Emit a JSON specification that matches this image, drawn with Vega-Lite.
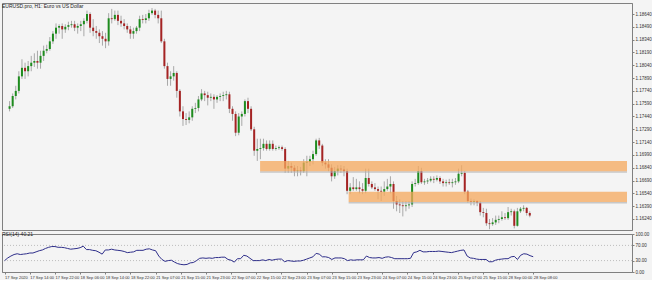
{
"$schema":"https://vega.github.io/schema/vega-lite/v6.json",
"background":"#f4f4f4",
"padding":{"left":1,"top":2,"right":0,"bottom":0},
"bounds":"flush",
"config":{
 "view":{"stroke":"#808080","strokeWidth":1},
 "font":"Liberation Sans",
 "axis":{"labelFontSize":4.5,"labelColor":"#333333","domainColor":"#808080","tickColor":"#808080","tickSize":2,"labelPadding":1,"grid":false,"title":null,"labelOverlap":false},
 "title":{"fontSize":5,"fontWeight":"normal","anchor":"start","color":"#222222","frame":"group"}
},
"datasets":{
"bars":[
{"i":0,"o":1.1753,"h":1.1762,"l":1.1750,"c":1.1756,"rsi":30},
{"i":1,"o":1.1756,"h":1.1771,"l":1.1754,"c":1.1768,"rsi":37},
{"i":2,"o":1.1768,"h":1.1780,"l":1.1764,"c":1.1774,"rsi":42},
{"i":3,"o":1.1774,"h":1.1797,"l":1.1771,"c":1.1791,"rsi":46},
{"i":4,"o":1.1791,"h":1.1811,"l":1.1788,"c":1.1801,"rsi":48},
{"i":5,"o":1.1801,"h":1.1807,"l":1.1788,"c":1.1797,"rsi":46},
{"i":6,"o":1.1797,"h":1.1809,"l":1.1791,"c":1.1803,"rsi":47},
{"i":7,"o":1.1803,"h":1.1815,"l":1.1797,"c":1.1807,"rsi":48},
{"i":8,"o":1.1807,"h":1.1818,"l":1.1802,"c":1.1809,"rsi":50},
{"i":9,"o":1.1809,"h":1.1821,"l":1.1800,"c":1.1807,"rsi":50},
{"i":10,"o":1.1807,"h":1.1821,"l":1.1800,"c":1.1815,"rsi":53},
{"i":11,"o":1.1815,"h":1.1827,"l":1.1809,"c":1.1821,"rsi":56},
{"i":12,"o":1.1821,"h":1.1828,"l":1.1818,"c":1.1823,"rsi":58},
{"i":13,"o":1.1823,"h":1.1837,"l":1.1821,"c":1.1832,"rsi":62},
{"i":14,"o":1.1832,"h":1.1844,"l":1.1829,"c":1.1841,"rsi":65},
{"i":15,"o":1.1841,"h":1.1853,"l":1.1835,"c":1.1848,"rsi":67},
{"i":16,"o":1.1848,"h":1.1852,"l":1.1841,"c":1.1850,"rsi":67},
{"i":17,"o":1.1850,"h":1.1853,"l":1.1835,"c":1.1846,"rsi":65},
{"i":18,"o":1.1846,"h":1.1852,"l":1.1842,"c":1.1849,"rsi":65},
{"i":19,"o":1.1849,"h":1.1855,"l":1.1845,"c":1.1851,"rsi":64},
{"i":20,"o":1.1851,"h":1.1856,"l":1.1848,"c":1.1852,"rsi":62},
{"i":21,"o":1.1852,"h":1.1856,"l":1.1844,"c":1.1848,"rsi":60},
{"i":22,"o":1.1848,"h":1.1853,"l":1.1841,"c":1.1850,"rsi":61},
{"i":23,"o":1.1850,"h":1.1856,"l":1.1844,"c":1.1852,"rsi":62},
{"i":24,"o":1.1852,"h":1.1859,"l":1.1838,"c":1.1856,"rsi":64},
{"i":25,"o":1.1856,"h":1.1868,"l":1.1853,"c":1.1864,"rsi":68},
{"i":26,"o":1.1864,"h":1.1866,"l":1.1842,"c":1.1848,"rsi":59},
{"i":27,"o":1.1848,"h":1.1858,"l":1.1838,"c":1.1844,"rsi":59},
{"i":28,"o":1.1844,"h":1.1850,"l":1.1835,"c":1.1842,"rsi":57},
{"i":29,"o":1.1842,"h":1.1846,"l":1.1830,"c":1.1838,"rsi":56},
{"i":30,"o":1.1838,"h":1.1844,"l":1.1827,"c":1.1835,"rsi":52},
{"i":31,"o":1.1835,"h":1.1842,"l":1.1824,"c":1.1832,"rsi":47},
{"i":32,"o":1.1832,"h":1.1865,"l":1.1827,"c":1.1859,"rsi":58},
{"i":33,"o":1.1859,"h":1.1870,"l":1.1853,"c":1.1858,"rsi":58},
{"i":34,"o":1.1858,"h":1.1868,"l":1.1856,"c":1.1863,"rsi":60},
{"i":35,"o":1.1863,"h":1.1868,"l":1.1851,"c":1.1856,"rsi":58},
{"i":36,"o":1.1856,"h":1.1862,"l":1.1849,"c":1.1853,"rsi":57},
{"i":37,"o":1.1853,"h":1.1858,"l":1.1846,"c":1.1850,"rsi":56},
{"i":38,"o":1.1850,"h":1.1853,"l":1.1842,"c":1.1846,"rsi":54},
{"i":39,"o":1.1846,"h":1.1850,"l":1.1835,"c":1.1841,"rsi":51},
{"i":40,"o":1.1841,"h":1.1848,"l":1.1835,"c":1.1844,"rsi":52},
{"i":41,"o":1.1844,"h":1.1850,"l":1.1841,"c":1.1848,"rsi":53},
{"i":42,"o":1.1848,"h":1.1862,"l":1.1844,"c":1.1858,"rsi":57},
{"i":43,"o":1.1858,"h":1.1863,"l":1.1853,"c":1.1857,"rsi":57},
{"i":44,"o":1.1857,"h":1.1864,"l":1.1853,"c":1.1859,"rsi":57},
{"i":45,"o":1.1859,"h":1.1869,"l":1.1856,"c":1.1865,"rsi":60},
{"i":46,"o":1.1865,"h":1.1871,"l":1.1863,"c":1.1868,"rsi":61},
{"i":47,"o":1.1868,"h":1.1870,"l":1.1859,"c":1.1863,"rsi":58},
{"i":48,"o":1.1863,"h":1.1868,"l":1.1853,"c":1.1859,"rsi":56},
{"i":49,"o":1.1859,"h":1.1868,"l":1.1830,"c":1.1832,"rsi":42},
{"i":50,"o":1.1832,"h":1.1835,"l":1.1800,"c":1.1803,"rsi":33},
{"i":51,"o":1.1803,"h":1.1807,"l":1.1780,"c":1.1788,"rsi":28},
{"i":52,"o":1.1788,"h":1.1797,"l":1.1780,"c":1.1791,"rsi":30},
{"i":53,"o":1.1791,"h":1.1803,"l":1.1786,"c":1.1795,"rsi":31},
{"i":54,"o":1.1795,"h":1.1797,"l":1.1766,"c":1.1774,"rsi":26},
{"i":55,"o":1.1774,"h":1.1776,"l":1.1744,"c":1.1750,"rsi":22},
{"i":56,"o":1.1750,"h":1.1756,"l":1.1733,"c":1.1741,"rsi":20},
{"i":57,"o":1.1741,"h":1.1748,"l":1.1734,"c":1.1740,"rsi":19},
{"i":58,"o":1.1740,"h":1.1750,"l":1.1736,"c":1.1743,"rsi":20},
{"i":59,"o":1.1743,"h":1.1756,"l":1.1739,"c":1.1753,"rsi":24},
{"i":60,"o":1.1753,"h":1.1760,"l":1.1748,"c":1.1754,"rsi":25},
{"i":61,"o":1.1754,"h":1.1768,"l":1.1750,"c":1.1764,"rsi":30},
{"i":62,"o":1.1764,"h":1.1776,"l":1.1762,"c":1.1771,"rsi":36},
{"i":63,"o":1.1771,"h":1.1774,"l":1.1762,"c":1.1769,"rsi":37},
{"i":64,"o":1.1769,"h":1.1773,"l":1.1757,"c":1.1766,"rsi":36},
{"i":65,"o":1.1766,"h":1.1771,"l":1.1762,"c":1.1767,"rsi":37},
{"i":66,"o":1.1767,"h":1.1770,"l":1.1753,"c":1.1764,"rsi":36},
{"i":67,"o":1.1764,"h":1.1769,"l":1.1760,"c":1.1767,"rsi":38},
{"i":68,"o":1.1767,"h":1.1771,"l":1.1762,"c":1.1768,"rsi":38},
{"i":69,"o":1.1768,"h":1.1773,"l":1.1762,"c":1.1769,"rsi":39},
{"i":70,"o":1.1769,"h":1.1774,"l":1.1764,"c":1.1770,"rsi":39},
{"i":71,"o":1.1770,"h":1.1773,"l":1.1748,"c":1.1753,"rsi":33},
{"i":72,"o":1.1753,"h":1.1756,"l":1.1739,"c":1.1747,"rsi":31},
{"i":73,"o":1.1747,"h":1.1750,"l":1.1721,"c":1.1725,"rsi":26},
{"i":74,"o":1.1725,"h":1.1748,"l":1.1722,"c":1.1744,"rsi":35},
{"i":75,"o":1.1744,"h":1.1750,"l":1.1733,"c":1.1747,"rsi":35},
{"i":76,"o":1.1747,"h":1.1764,"l":1.1744,"c":1.1762,"rsi":44},
{"i":77,"o":1.1762,"h":1.1766,"l":1.1748,"c":1.1753,"rsi":42},
{"i":78,"o":1.1753,"h":1.1756,"l":1.1727,"c":1.1729,"rsi":36},
{"i":79,"o":1.1729,"h":1.1732,"l":1.1698,"c":1.1704,"rsi":30},
{"i":80,"o":1.1704,"h":1.1718,"l":1.1692,"c":1.1706,"rsi":30},
{"i":81,"o":1.1706,"h":1.1718,"l":1.1694,"c":1.1707,"rsi":30},
{"i":82,"o":1.1707,"h":1.1718,"l":1.1704,"c":1.1712,"rsi":32},
{"i":83,"o":1.1712,"h":1.1716,"l":1.1704,"c":1.1706,"rsi":30},
{"i":84,"o":1.1706,"h":1.1716,"l":1.1704,"c":1.1712,"rsi":33},
{"i":85,"o":1.1712,"h":1.1716,"l":1.1704,"c":1.1706,"rsi":31},
{"i":86,"o":1.1706,"h":1.1710,"l":1.1704,"c":1.1707,"rsi":33},
{"i":87,"o":1.1707,"h":1.1710,"l":1.1705,"c":1.1708,"rsi":34},
{"i":88,"o":1.1708,"h":1.1710,"l":1.1704,"c":1.1706,"rsi":34},
{"i":89,"o":1.1706,"h":1.1708,"l":1.1678,"c":1.1683,"rsi":27},
{"i":90,"o":1.1683,"h":1.1692,"l":1.1678,"c":1.1686,"rsi":30},
{"i":91,"o":1.1686,"h":1.1690,"l":1.1678,"c":1.1684,"rsi":29},
{"i":92,"o":1.1684,"h":1.1687,"l":1.1674,"c":1.1680,"rsi":28},
{"i":93,"o":1.1680,"h":1.1686,"l":1.1674,"c":1.1681,"rsi":29},
{"i":94,"o":1.1681,"h":1.1685,"l":1.1675,"c":1.1680,"rsi":29},
{"i":95,"o":1.1680,"h":1.1694,"l":1.1678,"c":1.1690,"rsi":31},
{"i":96,"o":1.1690,"h":1.1698,"l":1.1674,"c":1.1691,"rsi":34},
{"i":97,"o":1.1691,"h":1.1698,"l":1.1686,"c":1.1694,"rsi":37},
{"i":98,"o":1.1694,"h":1.1704,"l":1.1688,"c":1.1700,"rsi":40},
{"i":99,"o":1.1700,"h":1.1718,"l":1.1698,"c":1.1716,"rsi":49},
{"i":100,"o":1.1716,"h":1.1719,"l":1.1706,"c":1.1710,"rsi":47},
{"i":101,"o":1.1710,"h":1.1712,"l":1.1686,"c":1.1690,"rsi":40},
{"i":102,"o":1.1690,"h":1.1694,"l":1.1683,"c":1.1688,"rsi":40},
{"i":103,"o":1.1688,"h":1.1694,"l":1.1680,"c":1.1684,"rsi":38},
{"i":104,"o":1.1684,"h":1.1688,"l":1.1668,"c":1.1674,"rsi":33},
{"i":105,"o":1.1674,"h":1.1685,"l":1.1671,"c":1.1680,"rsi":37},
{"i":106,"o":1.1680,"h":1.1687,"l":1.1675,"c":1.1683,"rsi":37},
{"i":107,"o":1.1683,"h":1.1687,"l":1.1678,"c":1.1682,"rsi":37},
{"i":108,"o":1.1682,"h":1.1686,"l":1.1674,"c":1.1680,"rsi":35},
{"i":109,"o":1.1680,"h":1.1683,"l":1.1653,"c":1.1657,"rsi":30},
{"i":110,"o":1.1657,"h":1.1666,"l":1.1653,"c":1.1661,"rsi":32},
{"i":111,"o":1.1661,"h":1.1673,"l":1.1657,"c":1.1659,"rsi":31},
{"i":112,"o":1.1659,"h":1.1671,"l":1.1657,"c":1.1661,"rsi":32},
{"i":113,"o":1.1661,"h":1.1668,"l":1.1654,"c":1.1659,"rsi":32},
{"i":114,"o":1.1659,"h":1.1666,"l":1.1653,"c":1.1657,"rsi":32},
{"i":115,"o":1.1657,"h":1.1683,"l":1.1654,"c":1.1672,"rsi":42},
{"i":116,"o":1.1672,"h":1.1683,"l":1.1662,"c":1.1665,"rsi":38},
{"i":117,"o":1.1665,"h":1.1668,"l":1.1659,"c":1.1661,"rsi":37},
{"i":118,"o":1.1661,"h":1.1666,"l":1.1657,"c":1.1659,"rsi":37},
{"i":119,"o":1.1659,"h":1.1662,"l":1.1647,"c":1.1657,"rsi":38},
{"i":120,"o":1.1657,"h":1.1662,"l":1.1645,"c":1.1656,"rsi":36},
{"i":121,"o":1.1656,"h":1.1668,"l":1.1651,"c":1.1659,"rsi":39},
{"i":122,"o":1.1659,"h":1.1671,"l":1.1657,"c":1.1662,"rsi":40},
{"i":123,"o":1.1662,"h":1.1674,"l":1.1654,"c":1.1665,"rsi":38},
{"i":124,"o":1.1665,"h":1.1668,"l":1.1636,"c":1.1645,"rsi":35},
{"i":125,"o":1.1645,"h":1.1651,"l":1.1633,"c":1.1641,"rsi":35},
{"i":126,"o":1.1641,"h":1.1647,"l":1.1631,"c":1.1640,"rsi":35},
{"i":127,"o":1.1640,"h":1.1645,"l":1.1627,"c":1.1639,"rsi":35},
{"i":128,"o":1.1639,"h":1.1645,"l":1.1633,"c":1.1640,"rsi":35},
{"i":129,"o":1.1640,"h":1.1645,"l":1.1636,"c":1.1641,"rsi":36},
{"i":130,"o":1.1641,"h":1.1668,"l":1.1638,"c":1.1665,"rsi":51},
{"i":131,"o":1.1665,"h":1.1671,"l":1.1662,"c":1.1666,"rsi":53},
{"i":132,"o":1.1666,"h":1.1686,"l":1.1664,"c":1.1680,"rsi":57},
{"i":133,"o":1.1680,"h":1.1684,"l":1.1665,"c":1.1667,"rsi":53},
{"i":134,"o":1.1667,"h":1.1671,"l":1.1664,"c":1.1668,"rsi":53},
{"i":135,"o":1.1668,"h":1.1672,"l":1.1665,"c":1.1669,"rsi":54},
{"i":136,"o":1.1669,"h":1.1674,"l":1.1667,"c":1.1671,"rsi":54},
{"i":137,"o":1.1671,"h":1.1674,"l":1.1666,"c":1.1670,"rsi":54},
{"i":138,"o":1.1670,"h":1.1675,"l":1.1668,"c":1.1672,"rsi":55},
{"i":139,"o":1.1672,"h":1.1674,"l":1.1665,"c":1.1668,"rsi":54},
{"i":140,"o":1.1668,"h":1.1671,"l":1.1662,"c":1.1666,"rsi":53},
{"i":141,"o":1.1666,"h":1.1670,"l":1.1662,"c":1.1667,"rsi":52},
{"i":142,"o":1.1667,"h":1.1671,"l":1.1664,"c":1.1666,"rsi":51},
{"i":143,"o":1.1666,"h":1.1671,"l":1.1661,"c":1.1667,"rsi":53},
{"i":144,"o":1.1667,"h":1.1672,"l":1.1664,"c":1.1668,"rsi":55},
{"i":145,"o":1.1668,"h":1.1683,"l":1.1666,"c":1.1677,"rsi":57},
{"i":146,"o":1.1677,"h":1.1687,"l":1.1674,"c":1.1678,"rsi":58},
{"i":147,"o":1.1678,"h":1.1680,"l":1.1653,"c":1.1656,"rsi":42},
{"i":148,"o":1.1656,"h":1.1658,"l":1.1643,"c":1.1645,"rsi":37},
{"i":149,"o":1.1645,"h":1.1648,"l":1.1640,"c":1.1644,"rsi":36},
{"i":150,"o":1.1644,"h":1.1647,"l":1.1640,"c":1.1645,"rsi":34},
{"i":151,"o":1.1645,"h":1.1646,"l":1.1639,"c":1.1643,"rsi":33},
{"i":152,"o":1.1643,"h":1.1645,"l":1.1628,"c":1.1632,"rsi":33},
{"i":153,"o":1.1632,"h":1.1637,"l":1.1626,"c":1.1631,"rsi":33},
{"i":154,"o":1.1631,"h":1.1636,"l":1.1616,"c":1.1619,"rsi":27},
{"i":155,"o":1.1619,"h":1.1624,"l":1.1612,"c":1.1618,"rsi":27},
{"i":156,"o":1.1618,"h":1.1625,"l":1.1616,"c":1.1620,"rsi":31},
{"i":157,"o":1.1620,"h":1.1628,"l":1.1617,"c":1.1623,"rsi":33},
{"i":158,"o":1.1623,"h":1.1628,"l":1.1619,"c":1.1624,"rsi":34},
{"i":159,"o":1.1624,"h":1.1633,"l":1.1622,"c":1.1626,"rsi":35},
{"i":160,"o":1.1626,"h":1.1631,"l":1.1623,"c":1.1625,"rsi":35},
{"i":161,"o":1.1625,"h":1.1638,"l":1.1623,"c":1.1632,"rsi":40},
{"i":162,"o":1.1632,"h":1.1636,"l":1.1628,"c":1.1633,"rsi":41},
{"i":163,"o":1.1633,"h":1.1635,"l":1.1613,"c":1.1616,"rsi":33},
{"i":164,"o":1.1616,"h":1.1637,"l":1.1615,"c":1.1633,"rsi":44},
{"i":165,"o":1.1633,"h":1.1638,"l":1.1631,"c":1.1636,"rsi":48},
{"i":166,"o":1.1636,"h":1.1640,"l":1.1633,"c":1.1637,"rsi":47},
{"i":167,"o":1.1637,"h":1.1638,"l":1.1628,"c":1.1631,"rsi":43},
{"i":168,"o":1.1631,"h":1.1633,"l":1.1626,"c":1.1628,"rsi":40.21}
],
"zones":[
{"start":80.9,"end":199.4,"top":1.1692,"bottom":1.1680,"shadow":1.1678},
{"start":109.5,"end":199.4,"top":1.1656,"bottom":1.1644,"shadow":1.1642}
],
"levels":[{"lvl":30},{"lvl":70}]
},
"spacing":4,
"vconcat":[
{
 "width":630,"height":227,
 "title":{"text":"EURUSD.pro, H1: Euro vs US Dollar","offset":-6},
 "layer":[
  {"data":{"name":"bars"},
   "mark":{"type":"rule","color":"#a8a8a8","strokeWidth":1},
   "encoding":{
    "x":{"field":"i","type":"quantitative","scale":{"domain":[-0.83,199.4],"nice":false,"zero":false},"axis":null},
    "y":{"field":"l","type":"quantitative","scale":{"domain":[1.16111,1.18769],"nice":false,"zero":false},
         "axis":{"orient":"right","format":".5f","tickCount":40,"values":[1.1864,1.1849,1.1834,1.1819,1.1804,1.1789,1.1774,1.1759,1.1744,1.1729,1.1714,1.1699,1.1684,1.1669,1.1654,1.1639,1.1624]}},
    "y2":{"field":"h"}}},
  {"data":{"name":"bars"},
   "mark":{"type":"bar","size":2},
   "encoding":{
    "x":{"field":"i","type":"quantitative"},
    "y":{"field":"o","type":"quantitative"},
    "y2":{"field":"c"},
    "color":{"condition":{"test":"datum.c >= datum.o","value":"#1e8c1e"},"value":"#a52323"}}},
  {"data":{"name":"zones"},
   "mark":{"type":"rect","color":"#b4b4b4","opacity":0.7},
   "encoding":{
    "x":{"field":"start","type":"quantitative"},"x2":{"field":"end"},
    "y":{"field":"bottom","type":"quantitative"},"y2":{"field":"shadow"}}},
  {"data":{"name":"zones"},
   "mark":{"type":"rect","color":"#f5a85c","opacity":0.75},
   "encoding":{
    "x":{"field":"start","type":"quantitative"},"x2":{"field":"end"},
    "y":{"field":"top","type":"quantitative"},"y2":{"field":"bottom"}}}
 ]
},
{
 "width":630,"height":38,
 "title":{"text":"RSI(14) 40.21","offset":-6},
 "layer":[
  {"data":{"name":"levels"},
   "mark":{"type":"rule","color":"#bdbdbd","strokeDash":[1,2],"strokeWidth":1},
   "encoding":{"y":{"field":"lvl","type":"quantitative","scale":{"domain":[0,100],"nice":false}}}},
  {"data":{"name":"bars"},
   "mark":{"type":"line","color":"#2e2e8a","strokeWidth":1},
   "encoding":{
    "x":{"field":"i","type":"quantitative","scale":{"domain":[-0.83,199.4],"nice":false,"zero":false},
         "axis":{"orient":"bottom","labelFontSize":4,"tickCount":40,"values":[0,8,16,24,32,40,48,56,64,72,80,88,96,104,112,120,128,136,144,152,160,168],"labelAlign":"left","labelFlush":false,"labelOverlap":false,
         "labelExpr":"['17 Sep 2020','17 Sep 14:00','17 Sep 22:00','18 Sep 06:00','18 Sep 14:00','18 Sep 22:00','21 Sep 07:00','21 Sep 15:00','21 Sep 23:00','22 Sep 07:00','22 Sep 15:00','22 Sep 23:00','23 Sep 07:00','23 Sep 15:00','23 Sep 23:00','24 Sep 07:00','24 Sep 15:00','24 Sep 23:00','25 Sep 07:00','25 Sep 15:00','28 Sep 00:00','28 Sep 08:00'][round(datum.value/8)]"}},
    "y":{"field":"rsi","type":"quantitative","scale":{"domain":[0,100],"nice":false},
         "axis":{"orient":"right","tickCount":10,"values":[0,30,70,100],"format":".2f"}}}}
 ]
}
]
}
